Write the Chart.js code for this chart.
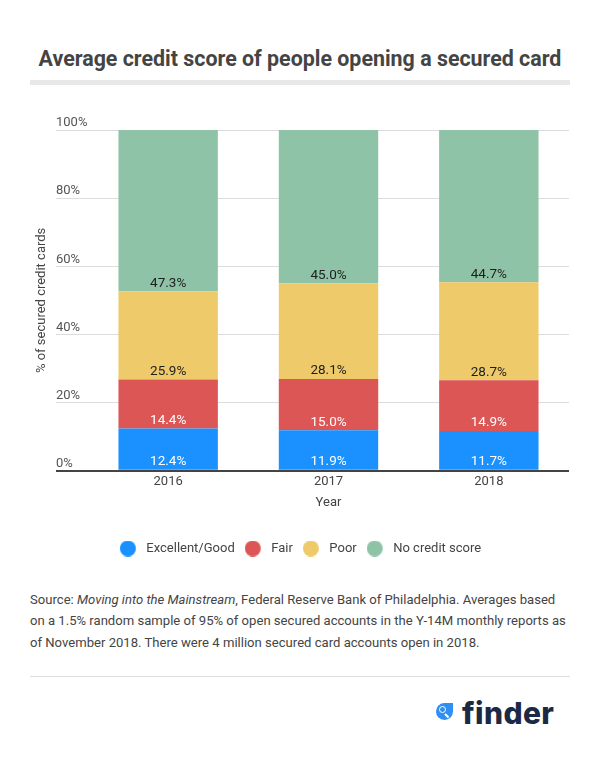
<!DOCTYPE html>
<html>
<head>
<meta charset="utf-8">
<script src="https://cdn.jsdelivr.net/npm/chart.js@4"></script>
<style>
  body { margin: 0; background: #fff; font-family: Roboto, sans-serif; color: #444; }
  #page { position: relative; width: 600px; height: 758px; overflow: hidden; }
  #title { position: absolute; left: 0; top: 44px; width: 600px; text-align: center;
           font-weight: 700; font-size: 21.4px; line-height: 30px; color: #444; }
  #rule-top { position: absolute; left: 30px; top: 80px; width: 540px; height: 5px; background: #e8e8e8; }
  #chart-box { position: absolute; left: 0; top: 100px; width: 600px; height: 470px; }
  #source { position: absolute; left: 30px; top: 589px; width: 560px; margin: 0; white-space: nowrap;
            font-size: 13.1px; line-height: 21.4px; color: #444; }
  #rule-bottom { position: absolute; left: 30px; top: 676px; width: 540px; height: 1px; background: #ddd; }
  #logo { position: absolute; left: 436px; top: 698px; height: 30px; }
  #logo .drop { position: absolute; left: 0; top: 5px; width: 17px; height: 17px; background: #2f8ff3;
                border-radius: 50% 0 50% 50%; }
  #logo .lens { position: absolute; left: 3px; top: 3px; width: 5px; height: 5px;
                border: 1.6px solid #fff; border-radius: 50%; }
  #logo .handle { position: absolute; left: 9px; top: 10px; width: 5px; height: 2px; background: #fff;
                  transform: rotate(45deg); transform-origin: 0 50%; }
  #logo .word { position: absolute; left: 26px; top: 0; font-family: Inter, Roboto, sans-serif;
                font-weight: 800; font-size: 30px; line-height: 30px; color: #1b2946; letter-spacing: 0.4px; }
</style>
</head>
<body>
<div id="page">
  <div id="title">Average credit score of people opening a secured card</div>
  <div id="rule-top"></div>
  <div id="chart-box"><canvas id="chart"></canvas></div>
  <p id="source">Source: <i>Moving into the Mainstream</i>, Federal Reserve Bank of Philadelphia. Averages based<br>on a 1.5% random sample of 95% of open secured accounts in the Y-14M monthly reports as<br>of November 2018. There were 4 million secured card accounts open in 2018.</p>
  <div id="rule-bottom"></div>
  <div id="logo">
    <span class="drop"><span class="lens"></span><span class="handle"></span></span>
    <span class="word">finder</span>
  </div>
</div>
<script>
// data
const years = ['2016', '2017', '2018'];
const seriesNames = ['Excellent/Good', 'Fair', 'Poor', 'No credit score'];
const excellentGood = [12.4, 11.9, 11.7];
const fair = [14.4, 15.0, 14.9];
const poor = [25.9, 28.1, 28.7];
const noScore = [47.3, 45.0, 44.7];
const yTicks = [0, 20, 40, 60, 80, 100];

const barColours = ['#1a91ff', '#dd5656', '#efca6a', '#8fc3a8'];
const labelColours = ['#ffffff', '#ffffff', '#1e1e1e', '#1e1e1e'];

// little round legend markers with some room on the right
function makeDot(colour) {
    const c = document.createElement('canvas');
    c.width = 20;
    c.height = 16;
    const g = c.getContext('2d');
    g.fillStyle = colour;
    g.beginPath();
    g.arc(8, 8, 8, 0, Math.PI * 2);
    g.fill();
    return c;
}

// percentage labels sitting at the bottom of every segment
const segmentLabels = {
    id: 'segmentLabels',
    afterDatasetsDraw(chart) {
        const ctx = chart.ctx;
        ctx.save();
        ctx.font = '13.5px Roboto';
        ctx.textAlign = 'center';
        ctx.textBaseline = 'middle';
        chart.data.datasets.forEach((ds, i) => {
            chart.getDatasetMeta(i).data.forEach((bar, j) => {
                ctx.fillStyle = labelColours[i];
                ctx.fillText(ds.data[j].toFixed(1) + '%', bar.x, bar.base - 8);
            });
        });
        ctx.restore();
    }
};

Chart.defaults.font.family = 'Roboto';
Chart.defaults.font.size = 13;
Chart.defaults.color = '#444';

const seriesValues = [excellentGood, fair, poor, noScore];

new Chart(document.getElementById('chart'), {
    type: 'bar',
    data: {
        labels: years,
        datasets: seriesNames.map((name, i) => ({
            label: name,
            data: seriesValues[i],
            backgroundColor: barColours[i],
            borderWidth: 0,
            barPercentage: 0.62,
            categoryPercentage: 1
        }))
    },
    options: {
        responsive: true,
        maintainAspectRatio: false,
        animation: false,
        layout: { padding: { top: 30, left: 32, right: 31, bottom: 5 } },
        scales: {
            x: {
                stacked: true,
                grid: { display: false, drawTicks: false },
                border: { display: false },
                ticks: { padding: 3, color: '#444' },
                title: { display: true, text: 'Year', color: '#444', padding: { top: 3, bottom: 21 } }
            },
            y: {
                stacked: true,
                min: 0,
                max: 100,
                afterBuildTicks: scale => { scale.ticks = yTicks.map(v => ({ value: v })); },
                afterFit: scale => { scale.width = 56; },
                border: { display: false },
                grid: {
                    color: c => c.tick.value === 0 ? '#444' : '#dcdcdc',
                    tickColor: c => c.tick.value === 0 ? '#444' : '#dcdcdc',
                    lineWidth: c => c.tick.value === 0 ? 2 : 1,
                    tickLength: 32
                },
                ticks: {
                    mirror: true,
                    padding: -32,
                    labelOffset: -7,
                    color: '#555',
                    callback: v => v + '%'
                },
                title: { display: true, text: '% of secured credit cards', color: '#444', padding: { top: 2, bottom: 0 } }
            }
        },
        plugins: {
            legend: {
                position: 'bottom',
                labels: {
                    usePointStyle: true,
                    pointStyleWidth: 20,
                    boxHeight: 13,
                    padding: 10,
                    color: '#444',
                    generateLabels(chart) {
                        const items = Chart.defaults.plugins.legend.labels.generateLabels(chart);
                        items.forEach(it => { it.pointStyle = makeDot(it.fillStyle); });
                        return items;
                    }
                }
            },
            tooltip: { enabled: false }
        }
    },
    plugins: [segmentLabels]
});
</script>
</body>
</html>
